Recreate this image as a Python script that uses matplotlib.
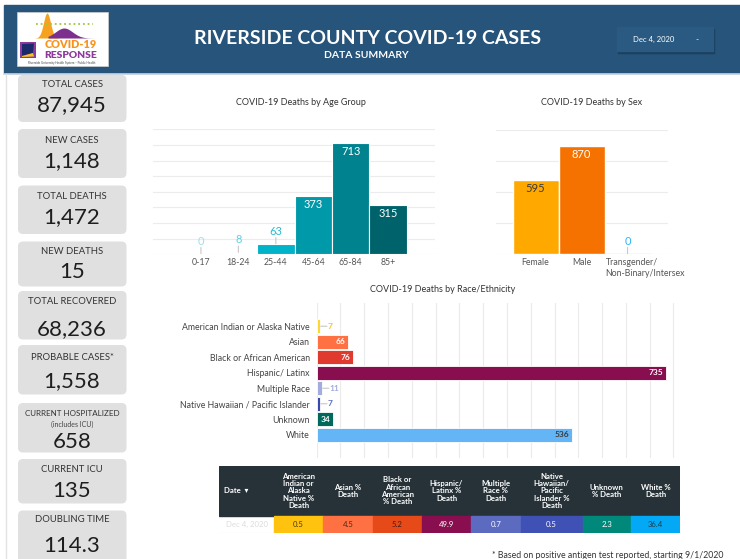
import numpy as np
import matplotlib.pyplot as plt
from matplotlib.patches import Rectangle, FancyBboxPatch, Polygon

plt.rcParams['font.family'] = ['Lato', 'DejaVu Sans']

# summary cards
card_labels = ['TOTAL CASES', 'NEW CASES', 'TOTAL DEATHS', 'NEW DEATHS', 'TOTAL RECOVERED',
               'PROBABLE CASES*', 'CURRENT HOSPITALIZED', 'CURRENT ICU', 'DOUBLING TIME']
card_values = ['87,945', '1,148', '1,472', '15', '68,236', '1,558', '658', '135', '114.3']

# deaths by age group
age_groups = ['0-17', '18-24', '25-44', '45-64', '65-84', '85+']
age_deaths = [0, 8, 63, 373, 713, 315]

# deaths by sex
sex_groups = ['Female', 'Male', 'Transgender/\nNon-Binary/Intersex']
sex_deaths = [595, 870, 0]

# deaths by race / ethnicity
race_groups = ['American Indian or Alaska Native', 'Asian', 'Black or African American',
               'Hispanic/ Latinx', 'Multiple Race', 'Native Hawaiian / Pacific Islander',
               'Unknown', 'White']
race_deaths = [7, 66, 76, 735, 11, 7, 34, 536]

# percent table
table_date = 'Dec 4, 2020'
table_headers = ['American\nIndian or\nAlaska\nNative %\nDeath', 'Asian %\nDeath',
                 'Black or\nAfrican\nAmerican\n% Death', 'Hispanic/\nLatinx %\nDeath',
                 'Multiple\nRace %\nDeath', 'Native\nHawaiian/\nPacific\nIslander %\nDeath',
                 'Unknown\n% Death', 'White %\nDeath']
race_pct = [0.5, 4.5, 5.2, 49.9, 0.7, 0.5, 2.3, 36.4]

W, H = 740, 559
fig = plt.figure(figsize=(W / 100, H / 100), dpi=100)


def add_px_axes(x0, y0, x1, y1):
    return fig.add_axes([x0 / W, 1 - y1 / H, (x1 - x0) / W, (y1 - y0) / H])


def clean(ax):
    for s in ax.spines.values():
        s.set_visible(False)
    ax.set_facecolor('none')


bg = add_px_axes(0, 0, W, H)
bg.set_xlim(0, W)
bg.set_ylim(H, 0)
bg.axis('off')

# ---- header ----
bg.add_patch(Rectangle((4, 5), 736, 68, color='#27547a', zorder=1))
bg.plot([4, 740], [73.5, 73.5], color='#c9d6e2', lw=1.2, zorder=1)

# logo
bg.add_patch(Rectangle((17, 12), 91, 54, facecolor='white', edgecolor='#d0d0d0', lw=0.5, zorder=2))
xs = np.linspace(32, 62, 60)
bg.fill_between(xs, 38 - 25 * np.exp(-((xs - 47) / 5.0) ** 2), 38, color='#f7a21e', lw=0, zorder=3)
xs2 = np.linspace(48, 106, 80)
bg.fill_between(xs2, 38 - 10 * np.exp(-((xs2 - 64) / 12) ** 2), 38, color='#7d2f8e', lw=0, zorder=4)
bg.plot([36, 93], [24, 24], ls=(0, (1, 1.6)), color='#a4c639', lw=1.3, zorder=5)
bg.add_patch(Rectangle((20, 42), 16, 16, facecolor='#8e3a9d', lw=0, zorder=3))
bg.add_patch(Polygon([[22, 44], [34, 43.5], [33, 53], [22, 56]], facecolor='#1b2a6b', lw=0, zorder=4))
bg.add_patch(Polygon([[22, 56], [33, 53], [34, 56.5], [22, 57]], facecolor='#f7c31e', lw=0, zorder=4))
bg.text(71, 44.8, 'COVID-19', color='#f7941d', fontsize=7.8, fontweight='heavy', ha='center', va='center', zorder=5)
bg.text(71, 55, 'RESPONSE', color='#8e3a9d', fontsize=7.4, fontweight='heavy', ha='center', va='center', zorder=5)
bg.text(62, 62.6, 'Riverside University Health System \u2013 Public Health', fontsize=2.2, color='#444',
        ha='center', va='center', zorder=5)

bg.text(368, 38.5, 'RIVERSIDE COUNTY COVID-19 CASES', color='white', fontsize=14, fontweight='bold',
        ha='center', va='center', zorder=5)
bg.text(366, 55.5, 'DATA SUMMARY', color='white', fontsize=7.5, fontweight='bold',
        ha='center', va='center', zorder=5)

# date selector
bg.add_patch(Rectangle((618, 29), 96, 24, color='#1c3f5e', zorder=2))
bg.add_patch(Rectangle((617, 27), 96, 24, color='#2a5a81', zorder=3))
bg.text(654, 39.5, 'Dec 4, 2020', color='white', fontsize=5.5, ha='center', va='center', zorder=4)
bg.text(697, 39.5, '-', color='white', fontsize=6, ha='center', va='center', zorder=4)

# ---- left cards ----
bg.plot([5.5, 5.5], [74, 559], color='#e2e2e2', lw=1, zorder=1)
card_boxes = [(75, 122), (129, 178), (185.5, 234), (241.5, 286.5), (291, 339.5),
              (345, 394.5), (403, 452.5), (459, 503.5), (510.5, 566)]
label_y = [84.5, 140.5, 196.5, 252, 301, 357, 413, 469, 519.5]
value_y = [105, 161, 217, 272, 329.5, 381, 442.5, 491, 546]
for (y0, y1), ly, vy, lab, val in zip(card_boxes, label_y, value_y, card_labels, card_values):
    bg.add_patch(FancyBboxPatch((18, y0), 108.5, y1 - y0, boxstyle='round,pad=0,rounding_size=5',
                                facecolor='#e0e0e0', edgecolor='none', zorder=1))
    fs = 5.8 if len(lab) > 16 else 6.8
    bg.text(72, ly, lab, fontsize=fs, color='#333333', ha='center', va='center', zorder=2)
    bg.text(72, vy, val, fontsize=16, color='#1e1e1e', ha='center', va='center', zorder=2)
bg.text(72, 424, '(includes ICU)', fontsize=5, color='#444', ha='center', va='center', zorder=2)

# ---- age chart ----
bg.text(300.5, 102.7, 'COVID-19 Deaths by Age Group', fontsize=6.5, color='#333', ha='center', va='center')
age_colors = ['#c9f0f6', '#a7e4ee', '#00b3c9', '#0099aa', '#00838f', '#00636b']
age_label_colors = ['#9be0ec', '#5fd0e2', '#26bcd0']
ax1 = add_px_axes(153, 129.3, 435, 254.3)
ax1.bar(range(len(age_deaths)), age_deaths, width=1.0, color=age_colors, edgecolor='white', linewidth=0.8, zorder=3)
ax1.set_ylim(0, 800)
ax1.set_xlim(-1.28, 6.25)
ax1.set_yticks(range(0, 801, 100))
ax1.yaxis.grid(True, color='#ececec', lw=0.8)
ax1.set_axisbelow(True)
ax1.tick_params(axis='y', length=0, labelleft=False)
ax1.set_xticks(range(len(age_groups)))
ax1.set_xticklabels(age_groups, fontsize=6.3, color='#555')
ax1.tick_params(axis='x', length=0, pad=3)
clean(ax1)
for i, v in enumerate(age_deaths):
    if v > 200:
        ax1.annotate(str(v), (i, v), xytext=(0, -2), textcoords='offset points', ha='center', va='top',
                     color='white', fontsize=8, zorder=5)
    else:
        ax1.annotate('', xy=(i, v), xytext=(0, 5), textcoords='offset points',
                     arrowprops=dict(arrowstyle='-', color='#c8c8c8', lw=0.8, shrinkA=0, shrinkB=0.5))
        ax1.annotate(str(v), (i, v), xytext=(0, 5.5), textcoords='offset points', ha='center', va='bottom',
                     color=age_label_colors[i], fontsize=8, zorder=5)

# ---- sex chart ----
bg.text(592, 102.7, 'COVID-19 Deaths by Sex', fontsize=6.5, color='#333', ha='center', va='center')
sex_colors = ['#ffa800', '#f57200', '#d4eef8']
sex_edges = ['white', 'white', '#cdeaf5']
ax2 = add_px_axes(496, 130, 668, 254.3)
ax2.bar(range(len(sex_deaths)), sex_deaths, width=1.0, color=sex_colors, edgecolor=sex_edges, linewidth=1.0, zorder=3)
ax2.set_ylim(0, 1000)
ax2.set_xlim(-0.86, 2.88)
ax2.set_yticks(range(0, 1001, 250))
ax2.yaxis.grid(True, color='#ececec', lw=0.8)
ax2.set_axisbelow(True)
ax2.tick_params(axis='y', length=0, labelleft=False)
# the long wrapped label starts at the third bar's left edge, as in the dashboard
ax2.set_xticks([0, 1, 1.52])
ax2.set_xticklabels(sex_groups, fontsize=6.3, color='#555', linespacing=1.2)
last = ax2.get_xticklabels()[-1]
last.set_horizontalalignment('left')
last.set_multialignment('left')
ax2.tick_params(axis='x', length=0, pad=3)
clean(ax2)
sex_label_colors = ['#3a3a3a', 'white', '#29b6f6']
for i, v in enumerate(sex_deaths):
    if v > 200:
        ax2.annotate(str(v), (i, v), xytext=(0, -2), textcoords='offset points', ha='center', va='top',
                     color=sex_label_colors[i], fontsize=8, zorder=5)
    else:
        ax2.annotate('', xy=(i, v), xytext=(0, 5), textcoords='offset points',
                     arrowprops=dict(arrowstyle='-', color='#c8c8c8', lw=0.8, shrinkA=0, shrinkB=0.5))
        ax2.annotate(str(v), (i, v), xytext=(0, 5.5), textcoords='offset points', ha='center', va='bottom',
                     color=sex_label_colors[i], fontsize=8, zorder=5)

# ---- race chart ----
bg.text(442.7, 289, 'COVID-19 Deaths by Race/Ethnicity', fontsize=6.5, color='#333', ha='center', va='center')
race_colors = ['#fdd835', '#ff7043', '#e03a2f', '#880e4f', '#a4acdf', '#3949ab', '#00695c', '#64b5f6']
race_label_colors = ['#fbc02d', 'white', 'white', 'white', '#a4acdf', '#5c6bc0', 'white', '#3a3a3a']
ax3 = add_px_axes(316.7, 303.3, 682, 458)
ax3.barh(range(len(race_deaths)), race_deaths, height=0.93, color=race_colors, edgecolor='white', linewidth=0.6, zorder=3)
ax3.set_ylim(8.5, -1.48)
ax3.set_xlim(0, 768)
ax3.set_xticks(range(0, 751, 50))
ax3.xaxis.grid(True, color='#ebebeb', lw=0.8)
ax3.set_axisbelow(True)
ax3.tick_params(axis='x', length=0, labelbottom=False)
ax3.set_yticks(range(len(race_groups)))
ax3.set_yticklabels(race_groups, fontsize=6.3, color='#444')
ax3.tick_params(axis='y', length=0, pad=5)
clean(ax3)
for i, v in enumerate(race_deaths):
    if v >= 30:
        ax3.annotate(str(v), (v, i), xytext=(-2, 0), textcoords='offset points', ha='right', va='center',
                     color=race_label_colors[i], fontsize=6, fontweight='bold', zorder=5)
    else:
        ax3.annotate('', xy=(v, i), xytext=(5, 0), textcoords='offset points',
                     arrowprops=dict(arrowstyle='-', color='#c8c8c8', lw=0.8, shrinkA=0, shrinkB=0.5))
        ax3.annotate(str(v), (v, i), xytext=(5.3, 0), textcoords='offset points', ha='left', va='center',
                     color=race_label_colors[i], fontsize=6, fontweight='bold', zorder=5)

# ---- percent table ----
col_widths = [54.7, 49.3, 49.3, 49.3, 49.3, 49.3, 62, 48.6, 48.7]
pct_colors = ['#ffc20e', '#ff7043', '#e64a19', '#880e4f', '#5c6bc0', '#3f51b5', '#00897b', '#03a9f4']
pct_text = ['#4a3a10', '#4a2a1a', '#4a1a10', 'white', 'white', 'white', 'white', '#1a3a4a']
head_h, row_h = 50.3, 17.3
ax4 = add_px_axes(219.3, 465.7, 219.3 + sum(col_widths), 465.7 + head_h + row_h)
ax4.set_xlim(0, sum(col_widths))
ax4.set_ylim(head_h + row_h, 0)
ax4.axis('off')
ax4.add_patch(Rectangle((0, 0), sum(col_widths), head_h, color='#263238'))
edges = np.concatenate([[0], np.cumsum(col_widths)])
ax4.text(5, head_h / 2, 'Date  \u25be', color='white', fontsize=5.6, fontweight='bold', ha='left', va='center')
ax4.text(edges[0] + col_widths[0] / 2, head_h + row_h / 2, table_date, color='#dcdcdc', fontsize=5.6,
         ha='center', va='center')
for j, (hd, p) in enumerate(zip(table_headers, race_pct)):
    x0 = edges[j + 1]
    w = col_widths[j + 1]
    ax4.text(x0 + w / 2, head_h / 2, hd, color='white', fontsize=5.6, fontweight='bold', ha='center',
             va='center', linespacing=1.05)
    ax4.add_patch(Rectangle((x0, head_h), w, row_h, color=pct_colors[j]))
    ax4.text(x0 + w / 2, head_h + row_h / 2, f'{p:.1f}', color=pct_text[j], fontsize=5.6,
             ha='center', va='center')
ax4.plot([0, edges[1]], [head_h + row_h - 0.5] * 2, color='#e6e6e6', lw=0.8)

bg.text(723, 555.5, '* Based on positive antigen test reported, starting 9/1/2020', ha='right', va='center',
        fontsize=6.3, color='#333')

fig.savefig('out.png', dpi=100)
